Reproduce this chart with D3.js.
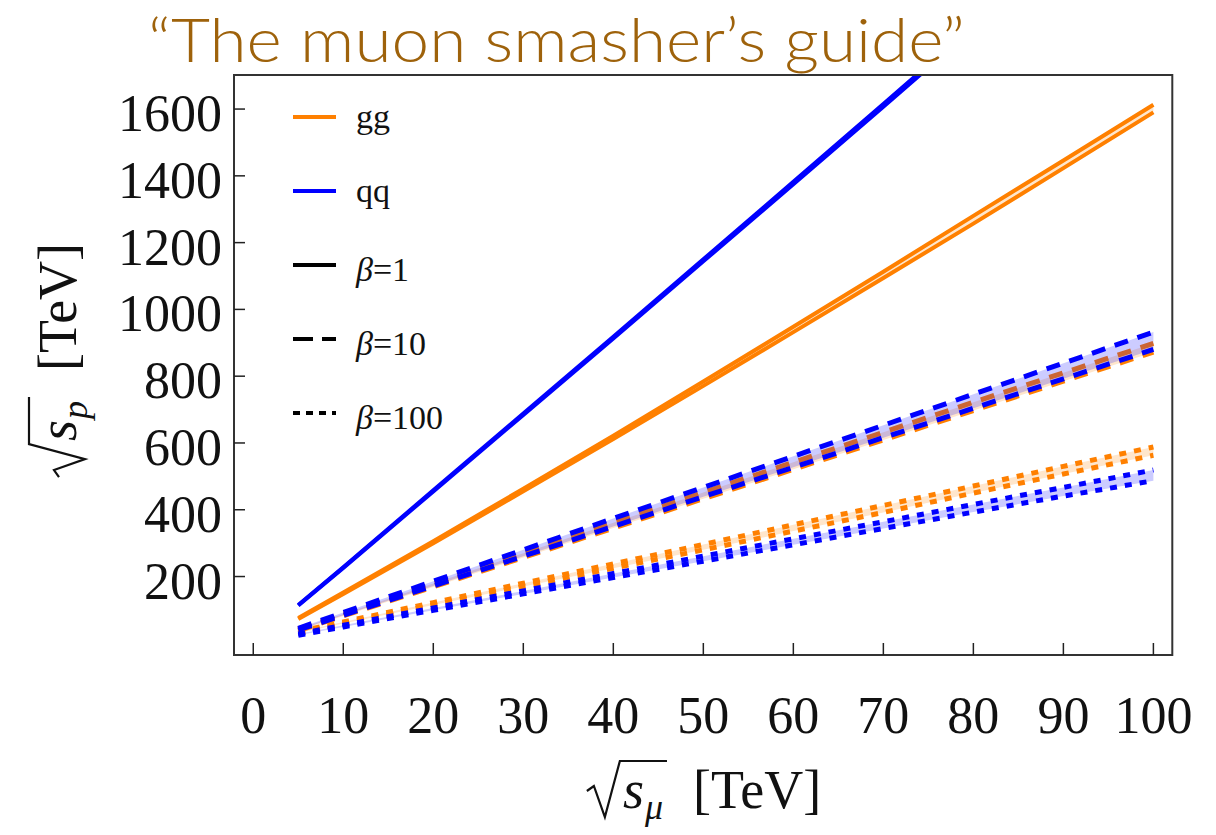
<!DOCTYPE html>
<html>
<head>
<meta charset="utf-8">
<script src="https://cdn.jsdelivr.net/npm/d3@7"></script>
<style>
  body { margin: 0; background: #fff; }
</style>
</head>
<body>
<script>
// sqrt(s_mu) sample points [TeV]
var xs = [5, 10, 20, 30, 40, 50, 60, 70, 80, 90, 100];

// equivalent sqrt(s_p) [TeV], upper / lower edge of each band
var ggB1Hi   = [76, 152, 306, 463, 622, 784, 948, 1113, 1280, 1446, 1613];
var ggB1Lo   = [73, 148, 300, 455, 612, 771, 932, 1094, 1257, 1423, 1590];
var qqB1Hi   = [115, 228, 458, 688, 918, 1150, 1382, 1615, 1850, 2085, 2320];
var qqB1Lo   = [113, 226, 455, 684, 913, 1144, 1375, 1607, 1841, 2075, 2309];
var ggB10Hi  = [43, 88, 179, 270, 361, 452, 542, 632, 722, 810, 898];
var ggB10Lo  = [38, 82, 169, 257, 345, 433, 521, 609, 697, 785, 872];
var qqB10Hi  = [45, 92, 186, 280, 374, 467, 560, 653, 746, 839, 932];
var qqB10Lo  = [40, 84, 172, 261, 350, 439, 527, 616, 704, 792, 880];
var ggB100Hi = [35, 64, 122, 180, 238, 296, 355, 413, 471, 530, 588];
var ggB100Lo = [31, 59, 115, 170, 225, 280, 336, 392, 450, 507, 563];
var qqB100Hi = [28, 54, 106, 157, 209, 261, 313, 364, 416, 467, 519];
var qqB100Lo = [24, 49, 99, 148, 197, 246, 295, 344, 393, 441, 487];

var xTicks = [0, 10, 20, 30, 40, 50, 60, 70, 80, 90, 100];
var yTicks = [200, 400, 600, 800, 1000, 1200, 1400, 1600];
var legendLabels = ["gg", "qq", "β=1", "β=10", "β=100"];

var W = 1216, H = 835;
var pLeft = 234, pRight = 1172.3, pTop = 75, pBottom = 655;
var orange = "#ff8000", blue = "#0000ff";
var serif = "'Liberation Serif', 'DejaVu Serif', serif";
var dashFor = { 1: null, 10: "14,10", 100: "7,8" };

var series = [
  { c: orange, beta: 1,   hi: ggB1Hi,   lo: ggB1Lo },
  { c: orange, beta: 10,  hi: ggB10Hi,  lo: ggB10Lo },
  { c: orange, beta: 100, hi: ggB100Hi, lo: ggB100Lo },
  { c: blue,   beta: 1,   hi: qqB1Hi,   lo: qqB1Lo },
  { c: blue,   beta: 10,  hi: qqB10Hi,  lo: qqB10Lo },
  { c: blue,   beta: 100, hi: qqB100Hi, lo: qqB100Lo }
];

var svg = d3.select("body").append("svg")
    .attr("width", W)
    .attr("height", H);

var x = d3.scaleLinear().domain([-2.14, 102.1]).range([pLeft, pRight]);
var y = d3.scaleLinear().domain([-35, 1702]).range([pBottom, pTop]);

svg.append("defs").append("clipPath").attr("id", "plot")
   .append("rect")
   .attr("x", pLeft).attr("y", pTop)
   .attr("width", pRight - pLeft).attr("height", pBottom - pTop);

// title
svg.append("text")
   .attr("x", 148)
   .attr("y", 62)
   .attr("font-family", "Lato, 'Liberation Sans', sans-serif")
   .attr("font-weight", 300)
   .attr("font-size", 62)
   .attr("fill", "#9e620b")
   .attr("textLength", 817)
   .attr("lengthAdjust", "spacingAndGlyphs")
   .text("\u201cThe muon smasher\u2019s guide\u201d");

// bands and lines
var plot = svg.append("g").attr("clip-path", "url(#plot)");
var area = d3.area()
    .x(function (d) { return x(d.x); })
    .y0(function (d) { return y(d.lo); })
    .y1(function (d) { return y(d.hi); });
var line = d3.line()
    .x(function (d) { return x(d[0]); })
    .y(function (d) { return y(d[1]); });

series.forEach(function (s) {
  var pts = xs.map(function (v, i) { return { x: v, hi: s.hi[i], lo: s.lo[i] }; });
  plot.append("path")
      .attr("d", area(pts))
      .attr("fill", s.c)
      .attr("fill-opacity", 0.2);
  [s.hi, s.lo].forEach(function (arr) {
    plot.append("path")
        .attr("d", line(xs.map(function (v, i) { return [v, arr[i]]; })))
        .attr("fill", "none")
        .attr("stroke", s.c)
        .attr("stroke-width", s.beta === 1 ? 4 : 5)
        .attr("stroke-dasharray", dashFor[s.beta]);
  });
});

// frame
svg.append("rect")
   .attr("x", pLeft).attr("y", pTop)
   .attr("width", pRight - pLeft).attr("height", pBottom - pTop)
   .attr("fill", "none")
   .attr("stroke", "#333")
   .attr("stroke-width", 2);

// ticks (inward, left and bottom only)
svg.selectAll(".ytick").data(yTicks).enter().append("line")
   .attr("x1", pLeft).attr("x2", pLeft + 11)
   .attr("y1", function (d) { return y(d); })
   .attr("y2", function (d) { return y(d); })
   .attr("stroke", "#222").attr("stroke-width", 1.5);
svg.selectAll(".xtick").data(xTicks).enter().append("line")
   .attr("x1", function (d) { return x(d); })
   .attr("x2", function (d) { return x(d); })
   .attr("y1", pBottom).attr("y2", pBottom - 12)
   .attr("stroke", "#222").attr("stroke-width", 1.5);

svg.selectAll(".ylab").data(yTicks).enter().append("text")
   .attr("x", 222)
   .attr("y", function (d) { return y(d) + 22; })
   .attr("text-anchor", "end")
   .attr("font-family", serif)
   .attr("font-size", 52)
   .attr("fill", "#111")
   .text(function (d) { return d; });
svg.selectAll(".xlab").data(xTicks).enter().append("text")
   .attr("x", function (d) { return x(d); })
   .attr("y", 733)
   .attr("text-anchor", "middle")
   .attr("font-family", serif)
   .attr("font-size", 52)
   .attr("fill", "#111")
   .text(function (d) { return d; });

// legend
var legColors = [orange, blue, "#000", "#000", "#000"];
var legDash = [null, null, null, "20,9", "7,6"];
legendLabels.forEach(function (lab, i) {
  var ly = 117 + i * 74;
  svg.append("line")
     .attr("x1", 293).attr("x2", 336)
     .attr("y1", ly).attr("y2", ly)
     .attr("stroke", legColors[i])
     .attr("stroke-width", 4)
     .attr("stroke-dasharray", legDash[i]);
  var t = svg.append("text")
     .attr("x", 356)
     .attr("y", ly + (i < 2 ? 11 : 16))
     .attr("font-family", serif)
     .attr("font-size", 34)
     .attr("fill", "#111");
  if (lab.charAt(0) === "β") {
    t.append("tspan").attr("font-style", "italic").text("β");
    t.append("tspan").text(lab.slice(1));
  } else {
    t.text(lab);
  }
});

// axis titles: sqrt(s_sub) [TeV]
function mathTitle(g, sub) {
  var fs = 54;
  var sx = 36;
  var s = g.append("text")
     .attr("x", sx).attr("y", 0)
     .attr("font-family", serif).attr("font-size", fs)
     .attr("font-style", "italic").attr("fill", "#111")
     .text("s");
  var sw = s.node().getComputedTextLength();
  var sb = g.append("text")
     .attr("x", sx + sw + 1).attr("y", 11)
     .attr("font-family", serif).attr("font-size", 36)
     .attr("font-style", "italic").attr("fill", "#111")
     .text(sub);
  var barEnd = sx + sw + 1 + sb.node().getComputedTextLength() + 4;
  g.append("path")
   .attr("d", "M0,-17 L7,-22 L18,9 L33,-47 L" + barEnd + ",-47")
   .attr("fill", "none").attr("stroke", "#111").attr("stroke-width", 2.2);
  var tev = g.append("text")
     .attr("x", barEnd + 26).attr("y", 0)
     .attr("font-family", serif).attr("font-size", fs)
     .attr("fill", "#111")
     .text("[TeV]");
  return barEnd + 26 + tev.node().getComputedTextLength();
}

var gx = svg.append("g");
var wx = mathTitle(gx, "μ");
gx.attr("transform", "translate(" + (704 - wx / 2) + ",808)");

var gyOuter = svg.append("g").attr("transform", "translate(76,360) rotate(-90)");
var gy = gyOuter.append("g");
var wy = mathTitle(gy, "p");
gy.attr("transform", "translate(" + (-wy / 2) + ",0)");
</script>
</body>
</html>
